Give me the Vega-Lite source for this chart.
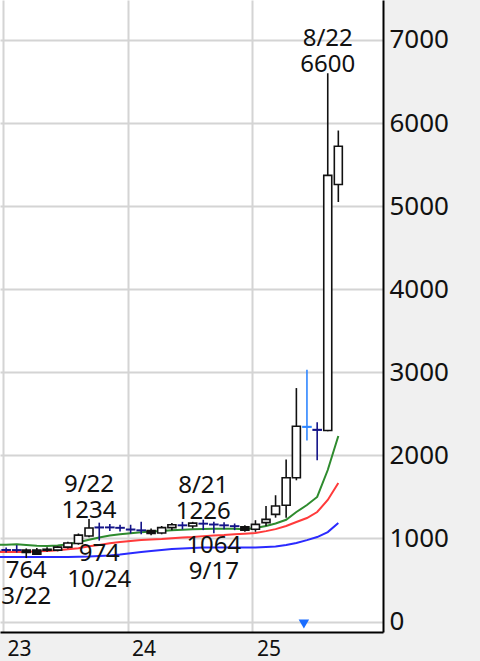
{
  "$schema": "https://vega.github.io/schema/vega-lite/v6.json",
  "width": 383,
  "height": 632,
  "autosize": {"type": "none"},
  "padding": {"left": 0, "top": 0, "right": 97, "bottom": 29},
  "background": "#f0f0f0",
  "config": {"view": {"fill": "white", "stroke": null}, "font": "Noto Sans"},
  "datasets": {
    "candles": [
      {"d": "2022-12-10", "o": 850, "h": 890, "l": 820, "c": 853, "t": "doji"},
      {"d": "2023-01-10", "o": 860, "h": 890, "l": 830, "c": 864, "t": "doji"},
      {"d": "2023-02-10", "o": 862, "h": 920, "l": 830, "c": 858, "t": "doji"},
      {"d": "2023-03-10", "o": 860, "h": 880, "l": 764, "c": 830, "t": "down"},
      {"d": "2023-04-10", "o": 860, "h": 885, "l": 800, "c": 810, "t": "down"},
      {"d": "2023-05-10", "o": 870, "h": 895, "l": 840, "c": 858, "t": "down"},
      {"d": "2023-06-10", "o": 860, "h": 905, "l": 845, "c": 895, "t": "up"},
      {"d": "2023-07-10", "o": 895, "h": 960, "l": 880, "c": 945, "t": "up"},
      {"d": "2023-08-10", "o": 940, "h": 1060, "l": 925, "c": 1040, "t": "up"},
      {"d": "2023-09-10", "o": 1030, "h": 1234, "l": 1015, "c": 1125, "t": "up"},
      {"d": "2023-10-10", "o": 1130, "h": 1190, "l": 974, "c": 1135, "t": "doji"},
      {"d": "2023-11-10", "o": 1135, "h": 1175, "l": 1090, "c": 1131, "t": "doji"},
      {"d": "2023-12-10", "o": 1130, "h": 1165, "l": 1085, "c": 1126, "t": "doji"},
      {"d": "2024-01-10", "o": 1110, "h": 1165, "l": 1060, "c": 1105, "t": "doji"},
      {"d": "2024-02-10", "o": 1100, "h": 1200, "l": 1050, "c": 1096, "t": "doji"},
      {"d": "2024-03-10", "o": 1095, "h": 1120, "l": 1040, "c": 1060, "t": "down"},
      {"d": "2024-04-10", "o": 1065, "h": 1150, "l": 1050, "c": 1130, "t": "up"},
      {"d": "2024-05-10", "o": 1130, "h": 1185, "l": 1100, "c": 1165, "t": "up"},
      {"d": "2024-06-10", "o": 1160, "h": 1200, "l": 1110, "c": 1156, "t": "doji"},
      {"d": "2024-07-10", "o": 1150, "h": 1200, "l": 1120, "c": 1185, "t": "up"},
      {"d": "2024-08-10", "o": 1180, "h": 1226, "l": 1100, "c": 1176, "t": "doji"},
      {"d": "2024-09-10", "o": 1170, "h": 1200, "l": 1064, "c": 1166, "t": "doji"},
      {"d": "2024-10-10", "o": 1160, "h": 1195, "l": 1110, "c": 1156, "t": "doji"},
      {"d": "2024-11-10", "o": 1150, "h": 1180, "l": 1100, "c": 1146, "t": "doji"},
      {"d": "2024-12-10", "o": 1140, "h": 1160, "l": 1080, "c": 1100, "t": "down"},
      {"d": "2025-01-10", "o": 1110, "h": 1220, "l": 1080, "c": 1170, "t": "up"},
      {"d": "2025-02-10", "o": 1190, "h": 1390, "l": 1150, "c": 1230, "t": "up"},
      {"d": "2025-03-10", "o": 1290, "h": 1520, "l": 1250, "c": 1390, "t": "up"},
      {"d": "2025-04-10", "o": 1400, "h": 1950, "l": 1250, "c": 1730, "t": "up"},
      {"d": "2025-05-10", "o": 1730, "h": 2810, "l": 1700, "c": 2350, "t": "up"},
      {"d": "2025-06-10", "o": 2340, "h": 3030, "l": 2180, "c": 2346, "t": "doji2"},
      {"d": "2025-07-10", "o": 2310, "h": 2400, "l": 1940, "c": 2304, "t": "doji"},
      {"d": "2025-08-10", "o": 2300, "h": 6600, "l": 2290, "c": 5370, "t": "up"},
      {"d": "2025-09-10", "o": 5260, "h": 5910, "l": 5050, "c": 5720, "t": "up"}
    ],
    "ma": [
      {"d": "2022-12-10", "g": 925, "r": 838, "b": 776},
      {"d": "2023-01-10", "g": 925, "r": 838, "b": 776},
      {"d": "2023-02-10", "g": 930, "r": 838, "b": 776},
      {"d": "2023-03-10", "g": 922, "r": 838, "b": 776},
      {"d": "2023-04-10", "g": 912, "r": 845, "b": 776},
      {"d": "2023-05-10", "g": 908, "r": 850, "b": 776},
      {"d": "2023-06-10", "g": 915, "r": 858, "b": 776},
      {"d": "2023-07-10", "g": 930, "r": 870, "b": 778},
      {"d": "2023-08-10", "g": 955, "r": 883, "b": 780},
      {"d": "2023-09-10", "g": 985, "r": 905, "b": 782},
      {"d": "2023-10-10", "g": 1012, "r": 920, "b": 788},
      {"d": "2023-11-10", "g": 1035, "r": 942, "b": 794},
      {"d": "2023-12-10", "g": 1050, "r": 957, "b": 806},
      {"d": "2024-01-10", "g": 1062, "r": 968, "b": 822},
      {"d": "2024-02-10", "g": 1075, "r": 980, "b": 836},
      {"d": "2024-03-10", "g": 1085, "r": 987, "b": 848},
      {"d": "2024-04-10", "g": 1090, "r": 993, "b": 860},
      {"d": "2024-05-10", "g": 1100, "r": 1003, "b": 872},
      {"d": "2024-06-10", "g": 1105, "r": 1011, "b": 880},
      {"d": "2024-07-10", "g": 1110, "r": 1017, "b": 885},
      {"d": "2024-08-10", "g": 1115, "r": 1028, "b": 890},
      {"d": "2024-09-10", "g": 1118, "r": 1035, "b": 891},
      {"d": "2024-10-10", "g": 1118, "r": 1041, "b": 891},
      {"d": "2024-11-10", "g": 1116, "r": 1052, "b": 891},
      {"d": "2024-12-10", "g": 1112, "r": 1058, "b": 891},
      {"d": "2025-01-10", "g": 1125, "r": 1065, "b": 892},
      {"d": "2025-02-10", "g": 1150, "r": 1088, "b": 897},
      {"d": "2025-03-10", "g": 1180, "r": 1112, "b": 903},
      {"d": "2025-04-10", "g": 1225, "r": 1150, "b": 920},
      {"d": "2025-05-10", "g": 1318, "r": 1198, "b": 945},
      {"d": "2025-06-10", "g": 1402, "r": 1246, "b": 980},
      {"d": "2025-07-10", "g": 1500, "r": 1318, "b": 1017},
      {"d": "2025-08-10", "g": 1824, "r": 1463, "b": 1077},
      {"d": "2025-09-10", "g": 2233, "r": 1667, "b": 1186}
    ],
    "notes": [
      {"d": "2025-08-10", "v": 6600, "k": "high", "a": "8/22", "b": "6600"},
      {"d": "2023-09-10", "v": 1234, "k": "high", "a": "9/22", "b": "1234"},
      {"d": "2024-08-10", "v": 1226, "k": "high", "a": "8/21", "b": "1226"},
      {"d": "2023-10-10", "v": 974, "k": "low", "a": "974", "b": "10/24"},
      {"d": "2024-09-10", "v": 1064, "k": "low", "a": "1064", "b": "9/17"},
      {"d": "2023-03-10", "v": 764, "k": "low", "a": "764", "b": "3/22"}
    ],
    "marker": [
      {"d": "2025-06-01", "v": -30}
    ]
  },
  "encoding": {
    "x": {
      "field": "d",
      "type": "temporal",
      "title": null,
      "scale": {"domain": [{"year": 2022, "month": 12, "date": 23}, {"year": 2026, "month": 1, "date": 19}], "nice": false, "padding": 0},
      "axis": {
        "values": [{"year": 2023, "month": 1, "date": 1}, {"year": 2024, "month": 1, "date": 1}, {"year": 2025, "month": 1, "date": 1}],
        "format": "%y",
        "ticks": false,
        "grid": true,
        "gridColor": "#d4d4d4",
        "gridWidth": 2,
        "domainColor": "#000000",
        "domainWidth": 2,
        "labelAlign": "left",
        "labelBaseline": "top",
        "labelPadding": 6,
        "labelOffset": 4,
        "labelFlush": false,
        "labelOverlap": false,
        "labelFont": "Noto Sans",
        "labelFontSize": 21,
        "labelColor": "#111111"
      }
    }
  },
  "layer": [
    {
      "data": {"name": "ma"},
      "transform": [{"fold": ["g", "r", "b"], "as": ["s", "v"]}],
      "mark": {"type": "line", "strokeWidth": 2, "clip": true},
      "encoding": {
        "y": {
          "field": "v",
          "type": "quantitative",
          "title": null,
          "scale": {"domain": [-126, 7481], "nice": false, "zero": false, "padding": 0},
          "axis": {
            "orient": "right",
            "values": [0, 1000, 2000, 3000, 4000, 5000, 6000, 7000],
            "format": "d",
            "ticks": false,
            "grid": true,
            "gridColor": "#d4d4d4",
            "gridWidth": 2,
            "domainColor": "#000000",
            "domainWidth": 2,
            "labelAlign": "left",
            "labelBaseline": "middle",
            "labelPadding": 6,
            "labelFlush": false,
            "labelOverlap": false,
            "labelFont": "Noto Sans",
            "labelFontSize": 26,
            "labelColor": "#111111"
          }
        },
        "color": {
          "field": "s",
          "type": "nominal",
          "scale": {"domain": ["g", "r", "b"], "range": ["#2e8b2e", "#ff3a3a", "#2a2aff"]},
          "legend": null
        }
      }
    },
    {
      "data": {"name": "candles"},
      "mark": {"type": "rule", "strokeWidth": 1.6, "clip": true},
      "encoding": {
        "y": {"field": "l", "type": "quantitative", "title": null, "scale": {"domain": [-126, 7481], "nice": false, "zero": false, "padding": 0}},
        "y2": {"field": "h"},
        "stroke": {
          "field": "t",
          "type": "nominal",
          "scale": {"domain": ["up", "down", "doji", "doji2"], "range": ["#111111", "#111111", "#141488", "#2f86ff"]},
          "legend": null
        }
      }
    },
    {
      "data": {"name": "candles"},
      "mark": {"type": "bar", "size": 8, "strokeWidth": 1.6, "clip": true},
      "encoding": {
        "y": {"field": "o", "type": "quantitative", "title": null, "scale": {"domain": [-126, 7481], "nice": false, "zero": false, "padding": 0}},
        "y2": {"field": "c"},
        "fill": {
          "field": "t",
          "type": "nominal",
          "scale": {"domain": ["up", "down", "doji", "doji2"], "range": ["#ffffff", "#111111", "#141488", "#2f86ff"]},
          "legend": null
        },
        "stroke": {
          "field": "t",
          "type": "nominal",
          "scale": {"domain": ["up", "down", "doji", "doji2"], "range": ["#111111", "#111111", "#141488", "#2f86ff"]},
          "legend": null
        }
      }
    },
    {
      "data": {"name": "notes"},
      "transform": [{"filter": "datum.k == 'high'"}],
      "mark": {"type": "text", "baseline": "bottom", "align": "center", "font": "Noto Sans", "fontSize": 24, "dy": -22, "color": "#111111"},
      "encoding": {
        "y": {"field": "v", "type": "quantitative", "title": null, "scale": {"domain": [-126, 7481], "nice": false, "zero": false, "padding": 0}},
        "text": {"field": "a"}
      }
    },
    {
      "data": {"name": "notes"},
      "transform": [{"filter": "datum.k == 'high'"}],
      "mark": {"type": "text", "baseline": "bottom", "align": "center", "font": "Noto Sans", "fontSize": 24, "dy": 4, "color": "#111111"},
      "encoding": {
        "y": {"field": "v", "type": "quantitative", "title": null, "scale": {"domain": [-126, 7481], "nice": false, "zero": false, "padding": 0}},
        "text": {"field": "b"}
      }
    },
    {
      "data": {"name": "notes"},
      "transform": [{"filter": "datum.k == 'low'"}],
      "mark": {"type": "text", "baseline": "top", "align": "center", "font": "Noto Sans", "fontSize": 24, "dy": 1, "color": "#111111"},
      "encoding": {
        "y": {"field": "v", "type": "quantitative", "title": null, "scale": {"domain": [-126, 7481], "nice": false, "zero": false, "padding": 0}},
        "text": {"field": "a"}
      }
    },
    {
      "data": {"name": "notes"},
      "transform": [{"filter": "datum.k == 'low'"}],
      "mark": {"type": "text", "baseline": "top", "align": "center", "font": "Noto Sans", "fontSize": 24, "dy": 27, "color": "#111111"},
      "encoding": {
        "y": {"field": "v", "type": "quantitative", "title": null, "scale": {"domain": [-126, 7481], "nice": false, "zero": false, "padding": 0}},
        "text": {"field": "b"}
      }
    },
    {
      "data": {"name": "marker"},
      "mark": {"type": "point", "shape": "triangle-down", "filled": true, "size": 110, "color": "#1a6dff", "opacity": 1},
      "encoding": {
        "y": {"field": "v", "type": "quantitative", "title": null, "scale": {"domain": [-126, 7481], "nice": false, "zero": false, "padding": 0}}
      }
    }
  ]
}
